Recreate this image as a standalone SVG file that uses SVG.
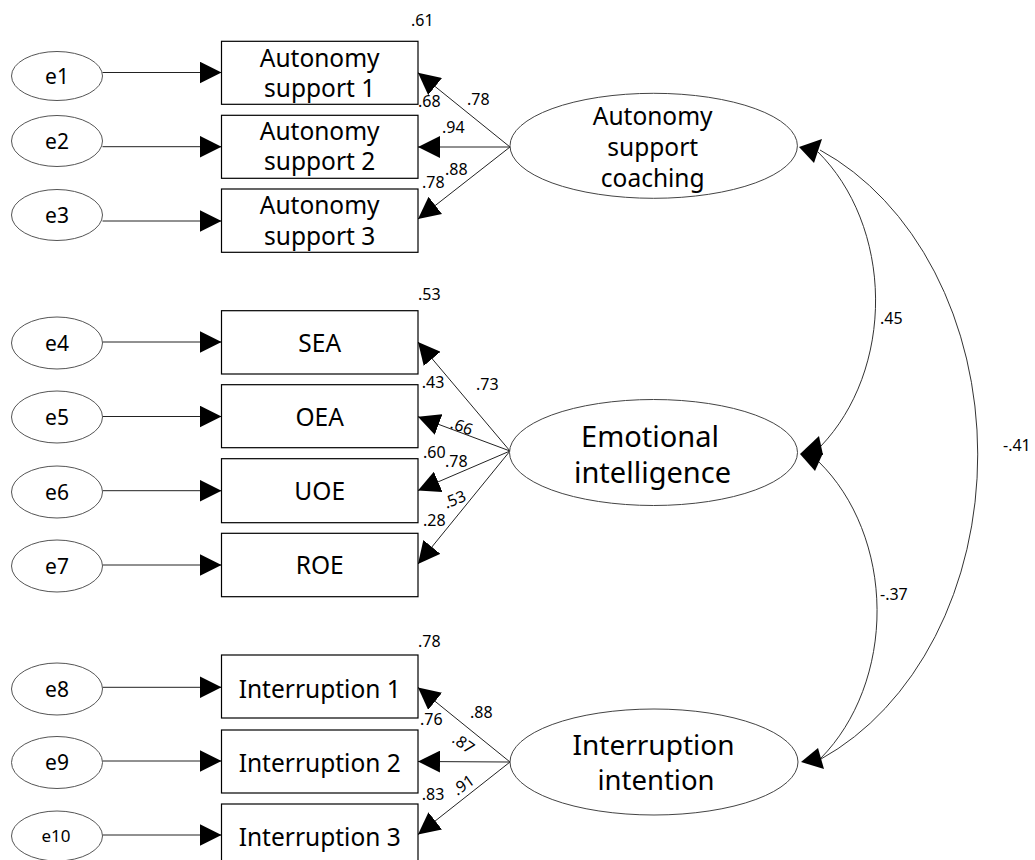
<svg xmlns="http://www.w3.org/2000/svg" width="1035" height="860" viewBox="0 0 1035 860">
<defs>
<marker id="ah" markerUnits="userSpaceOnUse" viewBox="0 0 22 22" refX="22" refY="11" markerWidth="22" markerHeight="22" orient="auto">
<path d="M0,0 L22,11 L0,22 Z" fill="#000"/>
</marker>
<style>
.box{fill:#fff;stroke:#000;stroke-width:1.2}
.err{fill:#fff;stroke:#555;stroke-width:1}
.lat{fill:#fff;stroke:#444;stroke-width:1}
.t{font-family:"Noto Sans","Open Sans",sans-serif;fill:#000;text-anchor:middle}
.bt{font-size:24.5px}
.et{font-size:21px}
.lt{font-size:29px}
.n{font-family:"Noto Sans","Open Sans",sans-serif;font-size:16px;fill:#000}
.ar{stroke:#222;stroke-width:1;fill:none;marker-end:url(#ah)}
.cv{stroke:#333;stroke-width:1;fill:none}
.hd{fill:#000}
</style>
</defs>
<rect width="1035" height="860" fill="#fff"/>

<g id="connectors">
<!-- error arrows -->
<line class="ar" x1="102.5" y1="72.5" x2="221.5" y2="72.5"/>
<line class="ar" x1="102.5" y1="146.7" x2="221.5" y2="146.7"/>
<line class="ar" x1="102.5" y1="221" x2="221.5" y2="221"/>
<line class="ar" x1="102.5" y1="342" x2="221.5" y2="342"/>
<line class="ar" x1="102.5" y1="416.5" x2="221.5" y2="416.5"/>
<line class="ar" x1="102.5" y1="490.7" x2="221.5" y2="490.7"/>
<line class="ar" x1="102.5" y1="565" x2="221.5" y2="565"/>
<line class="ar" x1="102.5" y1="687.3" x2="221.5" y2="687.3"/>
<line class="ar" x1="102.5" y1="761" x2="221.5" y2="761"/>
<line class="ar" x1="102.5" y1="835" x2="221.5" y2="835"/>
<!-- loadings -->
<line class="ar" x1="510" y1="147" x2="418" y2="72.7"/>
<line class="ar" x1="510" y1="147" x2="418" y2="147"/>
<line class="ar" x1="510" y1="147" x2="418" y2="219"/>
<line class="ar" x1="510" y1="451" x2="418" y2="342"/>
<line class="ar" x1="510" y1="451" x2="418" y2="416.7"/>
<line class="ar" x1="510" y1="451" x2="418" y2="490.5"/>
<line class="ar" x1="510" y1="451" x2="418" y2="564"/>
<line class="ar" x1="510" y1="762" x2="418" y2="687.5"/>
<line class="ar" x1="510" y1="762" x2="418" y2="761.5"/>
<line class="ar" x1="510" y1="762" x2="418" y2="834.5"/>
<!-- covariances -->
<path class="cv" d="M818,152 A153,190 0 0 1 821,446"/>
<path class="cv" d="M819,462 A153,190 0 0 1 821,758"/>
<path class="cv" d="M820,150 A260,331.5 0 0 1 821,759"/>
<polygon class="hd" points="799,147 822,139 814,163"/>
<polygon class="hd" points="800,454 819,436 823,455"/>
<polygon class="hd" points="800,454 823,453 815,471"/>
<polygon class="hd" points="801,762 818,748 824,769"/>
</g>

<g id="labels">
<text class="n" x="411" y="26">.61</text>
<text class="n" x="418" y="107">.68</text>
<text class="n" x="467" y="105">.78</text>
<text class="n" x="442" y="133">.94</text>
<text class="n" x="445" y="175">.88</text>
<text class="n" x="422" y="188">.78</text>
<text class="n" x="418" y="300">.53</text>
<text class="n" x="421.7" y="388">.43</text>
<text class="n" x="476" y="390">.73</text>
<text class="n" x="461.5" y="432" text-anchor="middle" transform="rotate(20 461.5 427)">.66</text>
<text class="n" x="423" y="458">.60</text>
<text class="n" x="445" y="467">.78</text>
<text class="n" x="455" y="505" text-anchor="middle" transform="rotate(-22 455 500)">.53</text>
<text class="n" x="423" y="526">.28</text>
<text class="n" x="418" y="646.5">.78</text>
<text class="n" x="420" y="725">.76</text>
<text class="n" x="470" y="718">.88</text>
<text class="n" x="463.3" y="749" text-anchor="middle" transform="rotate(35 463.3 743.5)">.87</text>
<text class="n" x="463.3" y="790.5" text-anchor="middle" transform="rotate(-35 463.3 785)">.91</text>
<text class="n" x="421.7" y="800">.83</text>
<text class="n" x="880" y="324">.45</text>
<text class="n" x="880" y="600">-.37</text>
<text class="n" x="1003" y="451">-.41</text>
</g>

<g id="e1"><ellipse class="err" cx="57" cy="76" rx="45.5" ry="24.5"/><text class="t et" x="57" y="83.5">e1</text></g>
<g id="e2"><ellipse class="err" cx="57" cy="141" rx="45.5" ry="25.5"/><text class="t et" x="57" y="148.5">e2</text></g>
<g id="e3"><ellipse class="err" cx="57" cy="215" rx="45.5" ry="25.5"/><text class="t et" x="57" y="222.5">e3</text></g>
<g id="e4"><ellipse class="err" cx="57" cy="343" rx="45.5" ry="26"/><text class="t et" x="57" y="350.5">e4</text></g>
<g id="e5"><ellipse class="err" cx="57" cy="417" rx="45.5" ry="26"/><text class="t et" x="57" y="424.5">e5</text></g>
<g id="e6"><ellipse class="err" cx="57" cy="492" rx="45.5" ry="26"/><text class="t et" x="57" y="499.5">e6</text></g>
<g id="e7"><ellipse class="err" cx="57" cy="566" rx="45.5" ry="26"/><text class="t et" x="57" y="573.5">e7</text></g>
<g id="e8"><ellipse class="err" cx="57" cy="689" rx="45.5" ry="26"/><text class="t et" x="57" y="696.5">e8</text></g>
<g id="e9"><ellipse class="err" cx="57" cy="762.5" rx="45.5" ry="26"/><text class="t et" x="57" y="770">e9</text></g>
<g id="e10"><ellipse class="err" cx="57" cy="836" rx="45.5" ry="25"/><text class="t" style="font-size:17px" x="56" y="842">e10</text></g>

<g id="as1"><rect class="box" x="221.5" y="41.3" width="196.5" height="63"/><text class="t bt" x="319.7" y="66.5">Autonomy</text><text class="t bt" x="319.7" y="96.5">support 1</text></g>
<g id="as2"><rect class="box" x="221.5" y="115.3" width="196.5" height="63"/><text class="t bt" x="319.7" y="140.3">Autonomy</text><text class="t bt" x="319.7" y="170.3">support 2</text></g>
<g id="as3"><rect class="box" x="221.5" y="189" width="196.5" height="63.3"/><text class="t bt" x="319.7" y="214">Autonomy</text><text class="t bt" x="319.7" y="244.5">support 3</text></g>
<g id="sea"><rect class="box" x="221.5" y="310.7" width="196.5" height="63.3"/><text class="t bt" x="319.7" y="351.5">SEA</text></g>
<g id="oea"><rect class="box" x="221.5" y="384.7" width="196.5" height="63"/><text class="t bt" x="319.7" y="425.5">OEA</text></g>
<g id="uoe"><rect class="box" x="221.5" y="458.7" width="196.5" height="64"/><text class="t bt" x="319.7" y="499.5">UOE</text></g>
<g id="roe"><rect class="box" x="221.5" y="533.3" width="196.5" height="63.4"/><text class="t bt" x="319.7" y="574">ROE</text></g>
<g id="int1"><rect class="box" x="221.5" y="655" width="196.5" height="63"/><text class="t bt" x="319.7" y="698">Interruption 1</text></g>
<g id="int2"><rect class="box" x="221.5" y="730" width="196.5" height="63"/><text class="t bt" x="319.7" y="772">Interruption 2</text></g>
<g id="int3"><rect class="box" x="221.5" y="804" width="196.5" height="63"/><text class="t bt" x="319.7" y="846">Interruption 3</text></g>

<g id="asc"><ellipse class="lat" cx="653.7" cy="145.8" rx="143.7" ry="52.5"/><text class="t bt" x="652.7" y="125">Autonomy</text><text class="t bt" x="652.7" y="156">support</text><text class="t bt" x="652.7" y="186.5">coaching</text></g>
<g id="ei"><ellipse class="lat" cx="653.5" cy="452.5" rx="144" ry="53"/><text class="t lt" x="650" y="446.7">Emotional</text><text class="t lt" x="652.5" y="483">intelligence</text></g>
<g id="ii"><ellipse class="lat" cx="654" cy="762" rx="144" ry="53"/><text class="t lt" style="font-size:28px" x="653.5" y="755">Interruption</text><text class="t lt" style="font-size:27.5px" x="656" y="790">intention</text></g>
</svg>
